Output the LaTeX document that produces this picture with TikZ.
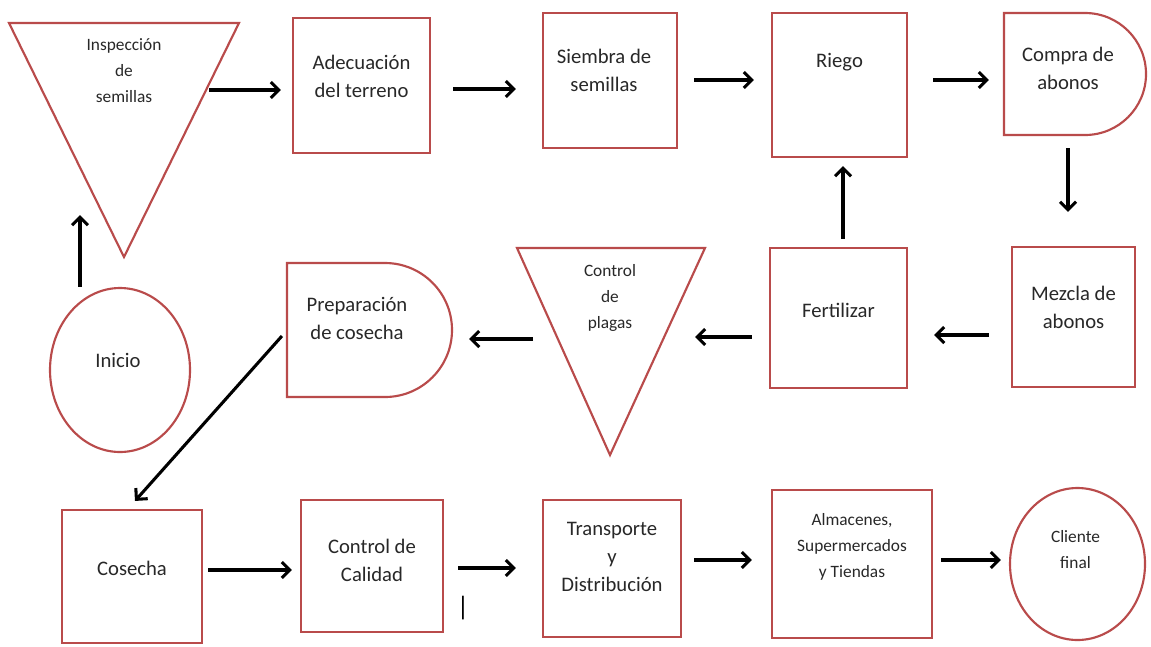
\documentclass[tikz,border=0pt]{standalone}
\usepackage{fontspec}
\setmainfont{Carlito}
\usetikzlibrary{shapes.geometric,shapes.misc,arrows.meta}
\definecolor{borde}{RGB}{185,75,75}
\definecolor{letra}{RGB}{40,40,40}
\tikzset{
	forma/.style={draw=borde, line width=1.6pt, fill=white},
	tam/.style 2 args={minimum width=#1*0.75pt, minimum height=#2*0.75pt},
	caja/.style={forma, rectangle, inner sep=0pt},
	espera/.style={forma, rounded rectangle, rounded rectangle left arc=none, inner sep=0pt},
	ovalo/.style={forma, ellipse, inner sep=0pt},
	txt/.style={text=letra, align=center, inner sep=0pt, font=\fontsize{15.5}{21}\selectfont},
	txtp/.style={txt, font=\fontsize{13}{19.5}\selectfont},
	flecha/.style={line width=2.3pt, -{Straight Barb[length=6pt,width=12pt]}},
}
\begin{document}
\begin{tikzpicture}[x=0.75pt,y=0.75pt,yscale=-1,xscale=1]
	\useasboundingbox (0,0) rectangle (1151,646);
	
	%fila 1
	\draw [forma] (9,23) -- (239,23) -- (124,257) -- cycle;
	\node [txtp] (insp) at (124,71) {Inspección\\de\\semillas};
	\coordinate (insp-r) at (209,90);
	\coordinate (insp-b) at (80,215);
	
	\node [caja, tam={137}{135}, label={[txt,shift={(0,9)}]center:Adecuación\\del terreno}] (adec) at (361.5,85.5) {};
	\node [caja, tam={134}{135}, label={[txt,shift={(-6,10)}]center:Siembra de\\semillas}] (siem) at (610,80.5) {};
	\node [caja, tam={135}{144}, label={[txt,shift={(0,23)}]center:Riego}] (riego) at (839.5,85) {};
	\node [espera, tam={142}{122}, label={[txt,shift={(-7,5.5)}]center:Compra de\\abonos}] (compra) at (1075,74) {};
	
	%fila 2
	\node [caja, tam={123}{140}, label={[txt,shift={(0,9.5)}]center:Mezcla de\\abonos}] (mezcla) at (1073.5,317) {};
	\node [caja, tam={137}{140}, label={[txt,shift={(0,8)}]center:Fertilizar}] (fert) at (838.5,318) {};
	
	\draw [forma] (517,248) -- (705,248) -- (610,455) -- cycle;
	\node [txtp] (plagas) at (610,298) {Control\\de\\plagas};
	\coordinate (plagas-r) at (695,337);
	\coordinate (plagas-l) at (533,339);
	
	\node [espera, tam={165}{134}, label={[txt,shift={(-12.5,12)}]center:Preparación\\de cosecha}] (prep) at (369.5,330) {};
	\node [ovalo, tam={140}{164}, label={[txt,shift={(-2,10)}]center:Inicio}] (inicio) at (120,370) {};
	
	%fila 3
	\node [caja, tam={140}{133}, label={[txt,shift={(0,8.5)}]center:Cosecha}] (cosecha) at (132,576.5) {};
	\node [caja, tam={142}{132}, label={[txt,shift={(0,6)}]center:Control de\\Calidad}] (calidad) at (372,566) {};
	\node [caja, tam={138}{137}, label={[txt,shift={(0,11.5)}]center:Transporte\\y\\Distribución}] (transp) at (612,568.5) {};
	\node [caja, tam={160}{148}, label={[txtp,shift={(0,17)}]center:Almacenes,\\Supermercados\\y Tiendas}] (almac) at (852,564) {};
	\node [ovalo, tam={135}{152}, label={[txtp,shift={(-2,14.5)}]center:Cliente\\final}] (cliente) at (1077.5,564) {};
	\node [txt, text=black, font=\fontsize{20}{24}\selectfont] (marca) at (463,608) {|};
	
	%flechas
	\draw [flecha] (insp-r) -- ([shift={(-11,4.5)}]adec.west);
	\draw [flecha] ([shift={(22,3.5)}]adec.east) -- ([shift={(-26,8.5)}]siem.west);
	\draw [flecha] ([shift={(16,-0.5)}]siem.east) -- ([shift={(-17,-5)}]riego.west);
	\draw [flecha] ([shift={(25,-5)}]riego.east) -- ([shift={(-14,6)}]compra.west);
	\draw [flecha] ([shift={(-7,12)}]compra.south) -- ([shift={(-5.5,-34)}]mezcla.north);
	\draw [flecha] ([shift={(-22,18)}]mezcla.west) -- ([shift={(26,17)}]fert.east);
	\draw [flecha] ([shift={(4.5,-8)}]fert.north) -- ([shift={(3.5,8)}]riego.south);
	\draw [flecha] ([shift={(-17,19)}]fert.west) -- (plagas-r);
	\draw [flecha] (plagas-l) -- ([shift={(16,9)}]prep.east);
	\draw [flecha] ([shift={(-4,6)}]prep.west) -- ([shift={(3,-8)}]cosecha.north);
	\draw [flecha] ([shift={(-40,0)}]inicio.north) -- (insp-b);
	\draw [flecha] ([shift={(5,-6.5)}]cosecha.east) -- ([shift={(-8,4)}]calidad.west);
	\draw [flecha] ([shift={(14,2)}]calidad.east) -- ([shift={(-26,-0.5)}]transp.west);
	\draw [flecha] ([shift={(12,-8.5)}]transp.east) -- ([shift={(-19,-4)}]almac.west);
	\draw [flecha] ([shift={(8,-4)}]almac.east) -- ([shift={(-8,-4)}]cliente.west);
	
\end{tikzpicture}
\end{document}
